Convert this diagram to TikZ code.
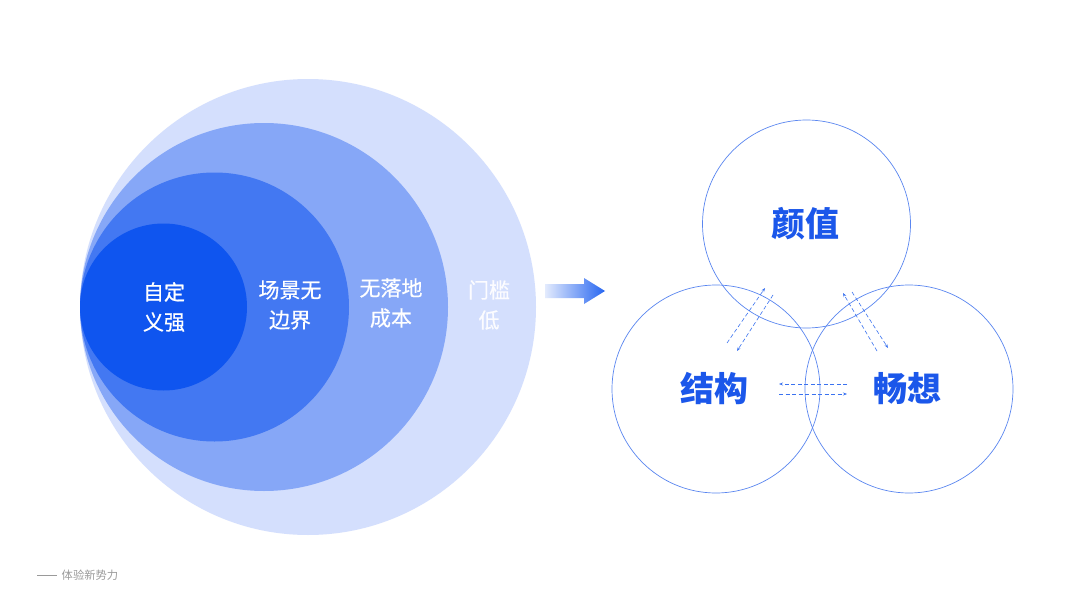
\documentclass[tikz,border=0pt]{standalone}
\usepackage{fontspec}
\setmainfont{Noto Sans CJK SC}
\newfontfamily\cjk{Noto Sans CJK SC}
\newfontfamily\cjkm[FakeBold=0.6]{Noto Sans CJK SC}
\usetikzlibrary{arrows.meta}
\definecolor{cA}{HTML}{D4DFFD}
\definecolor{cB}{HTML}{86A7F7}
\definecolor{cC}{HTML}{4378F2}
\definecolor{cD}{HTML}{0F55EF}
\definecolor{ring}{HTML}{5A86F0}
\definecolor{lab}{HTML}{1B57EA}
\definecolor{darr}{HTML}{3A72F0}
\definecolor{foot}{HTML}{9A9A9A}
\tikzset{
  wtxt/.style={text=white,font=\cjkm\fontsize{21}{30}\selectfont,align=center,inner sep=0},
  ringc/.style={circle,draw=ring,line width=0.7pt,minimum size=208pt,inner sep=0},
  blab/.style={text=lab,font=\cjk\bfseries\fontsize{34}{38}\selectfont,inner sep=0},
  darrow/.style={draw=darr,line width=0.6pt,dash pattern=on 4pt off 2.5pt,-{Stealth[length=4pt,width=3pt]}}
}
\begin{document}
\begin{tikzpicture}[x=1pt,y=-1pt]
\useasboundingbox (0,0) rectangle (1080,605);
\fill[white] (0,0) rectangle (1080,605);
% nested circles
\fill[cA] (308,307) circle (228);
\fill[cB] (264,307) circle (184);
\fill[cC] (214.5,307) circle (134.5);
\fill[cD] (163.5,307) circle (83.5);
\node[wtxt] (t1) at (164,307) {自定\\义强};
\node[wtxt] (t2) at (290,305) {场景无\\边界};
\node[wtxt] (t3) at (391,303) {无落地\\成本};
\node[wtxt,text=white!92!cA] (t4) at (489,305) {门槛\\低};
% big arrow
\shade[left color=white!85!cC,right color=cD!90!white] (545,284) -- (584,284) -- (584,278) -- (605,291) -- (584,304) -- (584,298) -- (545,298) -- cycle;
% right circles
\node[ringc] (top) at (806.5,224) {};
\node[ringc] (lft) at (716,389) {};
\node[ringc] (rgt) at (909,389) {};
\node[blab] (l1) at (805,224) {颜值};
\node[blab] (l2) at (714,389) {结构};
\node[blab] (l3) at (907,389) {畅想};
% dashed arrows
\coordinate (a1s) at (727,343); \coordinate (a1e) at (765,288);
\coordinate (a2s) at (773,295); \coordinate (a2e) at (737,351);
\coordinate (a3s) at (877,351); \coordinate (a3e) at (843,293);
\coordinate (a4s) at (852,292); \coordinate (a4e) at (888,348);
\coordinate (a5s) at (847,384); \coordinate (a5e) at (779,384);
\coordinate (a6s) at (779,394); \coordinate (a6e) at (847,394);
\draw[darrow] (a1s) -- (a1e);
\draw[darrow] (a2s) -- (a2e);
\draw[darrow] (a3s) -- (a3e);
\draw[darrow] (a4s) -- (a4e);
\draw[darrow] (a5s) -- (a5e);
\draw[darrow] (a6s) -- (a6e);
% footer
\coordinate (f1) at (37,575); \coordinate (f2) at (57,575);
\draw[foot,line width=0.6pt] (f1) -- (f2);
\node[anchor=west,text=foot,font=\cjk\fontsize{11.3}{13}\selectfont,inner sep=0] (ft) at (61.5,575) {体验新势力};
\end{tikzpicture}
\end{document}
